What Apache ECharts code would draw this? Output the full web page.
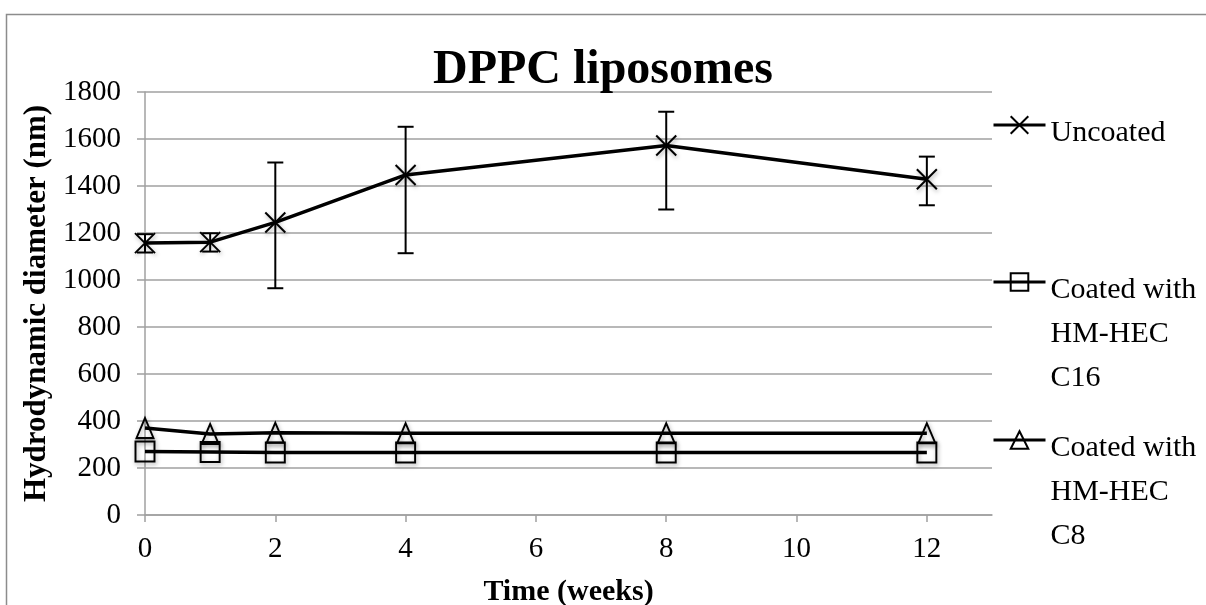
<!DOCTYPE html>
<html>
<head>
<meta charset="utf-8">
<script src="https://cdn.jsdelivr.net/npm/echarts@6/dist/echarts.min.js"></script>
<style>
html,body{margin:0;padding:0;background:#fff;}
#chart{width:1206px;height:605px;}
</style>
</head>
<body>
<div id="chart"></div>
<script>
// ---- data ----
const weeks = [0, 1, 2, 4, 8, 12];
const uncoated = [1157, 1161, 1245, 1447, 1572, 1429];
const uncoatedLow = [1117, 1121, 965, 1114, 1300, 1318];
const uncoatedHigh = [1195, 1199, 1500, 1652, 1716, 1525];
const coatedC16 = [270, 268, 266, 266, 266, 266];
const coatedC8 = [370, 345, 350, 348, 348, 348];
const seriesNames = ['Uncoated', 'Coated with HM-HEC C16', 'Coated with HM-HEC C8'];
const legendLabels = ['Uncoated', 'Coated with\nHM-HEC\nC16', 'Coated with\nHM-HEC\nC8'];
const xTicks = [0, 2, 4, 6, 8, 10, 12];
const titleText = 'DPPC liposomes';
const xName = 'Time (weeks)';
const yName = 'Hydrodynamic diameter (nm)';

const FONT = '"Liberation Serif", "Times New Roman", serif';
const chart = echarts.init(document.getElementById('chart'), null, {renderer: 'canvas'});

const markerShadow = {shadowBlur: 4, shadowColor: 'rgba(0,0,0,0.35)', shadowOffsetX: 1, shadowOffsetY: 2};

// legend text: spacer lines (rich style "s") shift the text block so the icon sits on its first line
function legendText(idx) {
  const label = legendLabels[idx];
  const n = label.split('\n').length;
  if (n === 1) return '{t| }\n' + label;
  let pre = '';
  for (let i = 0; i < n - 1; i++) pre += '{s| }\n';
  return pre + label;
}

function legendCfg(idx, top) {
  return {
    data: [seriesNames[idx]],
    left: 992, top: top, orient: 'vertical', padding: 0, itemGap: 0,
    itemWidth: 52, itemHeight: 22, selectedMode: false,
    lineStyle: {width: 3, color: '#000'},
    itemStyle: {shadowBlur: 0, shadowOffsetX: 0, shadowOffsetY: 0},
    formatter: () => legendText(idx),
    textStyle: {
      fontFamily: FONT, fontSize: 30, color: '#000', lineHeight: 44,
      rich: {
        s: {fontSize: 10, lineHeight: 52},
        t: {fontSize: 10, lineHeight: 16}
      }
    }
  };
}

const option = {
  animation: false,
  backgroundColor: '#fff',
  title: {
    text: titleText, left: 'center', top: 47, padding: 0,
    textStyle: {fontFamily: FONT, fontSize: 48, fontWeight: 'bold', color: '#000'}
  },
  legend: [legendCfg(0, 95), legendCfg(1, 164), legendCfg(2, 322)],
  grid: {left: 145, right: 214, top: 92, bottom: 90, containLabel: false, outerBoundsMode: 'none'},
  xAxis: {
    type: 'value', min: 0, max: 13, interval: 2,
    name: xName, nameLocation: 'middle', nameGap: 62,
    nameTextStyle: {fontFamily: FONT, fontSize: 30, fontWeight: 'bold', color: '#000'},
    axisLine: {lineStyle: {color: '#a0a0a0', width: 1.5}},
    axisTick: {show: true, length: 7, customValues: xTicks, lineStyle: {color: '#a0a0a0', width: 1.5}},
    axisLabel: {customValues: xTicks, margin: 20, fontFamily: FONT, fontSize: 29, color: '#000'},
    splitLine: {show: false}
  },
  yAxis: {
    type: 'value', min: 0, max: 1800, interval: 200,
    name: yName, nameLocation: 'middle', nameGap: 88, nameRotate: 90,
    nameTextStyle: {fontFamily: FONT, fontSize: 31, fontWeight: 'bold', color: '#000'},
    axisLine: {show: true, lineStyle: {color: '#a0a0a0', width: 1.5}},
    axisTick: {show: true, length: 8, lineStyle: {color: '#a0a0a0', width: 1.5}},
    axisLabel: {margin: 24, fontFamily: FONT, fontSize: 29, color: '#000', formatter: v => String(v)},
    splitLine: {show: true, lineStyle: {color: '#a0a0a0', width: 1.5}}
  },
  graphic: [{
    type: 'rect', left: 4, top: 12, shape: {width: 1220, height: 620},
    style: {fill: 'none', stroke: '#8c8c8c', lineWidth: 1.5}, silent: true, z: -1
  }],
  series: [
    {
      type: 'custom', name: 'err', z: 1,
      data: weeks.map((w, i) => [w, uncoatedLow[i], uncoatedHigh[i]]),
      encode: {x: 0, y: [1, 2]},
      renderItem: function (params, api) {
        const x = api.value(0);
        const pLo = api.coord([x, api.value(1)]);
        const pHi = api.coord([x, api.value(2)]);
        const hw = 8;
        const st = {stroke: '#000', lineWidth: 2};
        return {type: 'group', children: [
          {type: 'line', shape: {x1: pHi[0], y1: pHi[1], x2: pLo[0], y2: pLo[1]}, style: st},
          {type: 'line', shape: {x1: pHi[0] - hw, y1: pHi[1], x2: pHi[0] + hw, y2: pHi[1]}, style: st},
          {type: 'line', shape: {x1: pLo[0] - hw, y1: pLo[1], x2: pLo[0] + hw, y2: pLo[1]}, style: st}
        ]};
      }
    },
    {
      type: 'line', name: seriesNames[0], z: 3,
      data: weeks.map((w, i) => [w, uncoated[i]]),
      symbol: 'path://M0,0L10,10M10,0L0,10', symbolSize: 20,
      lineStyle: {color: '#000', width: 3.5},
      itemStyle: Object.assign({color: 'rgba(0,0,0,0)', borderColor: '#000', borderWidth: 2}, markerShadow)
    },
    {
      type: 'line', name: seriesNames[1], z: 3,
      data: weeks.map((w, i) => [w, coatedC16[i]]),
      symbol: 'rect', symbolSize: [19, 20],
      lineStyle: {color: '#000', width: 3.5},
      itemStyle: Object.assign({color: 'rgba(0,0,0,0)', borderColor: '#000', borderWidth: 2}, markerShadow)
    },
    {
      type: 'line', name: seriesNames[2], z: 3,
      data: weeks.map((w, i) => [w, coatedC8[i]]),
      symbol: 'triangle', symbolSize: [17, 20],
      lineStyle: {color: '#000', width: 3.5},
      itemStyle: Object.assign({color: 'rgba(0,0,0,0)', borderColor: '#000', borderWidth: 2}, markerShadow)
    }
  ]
};
chart.setOption(option);
</script>
</body>
</html>
